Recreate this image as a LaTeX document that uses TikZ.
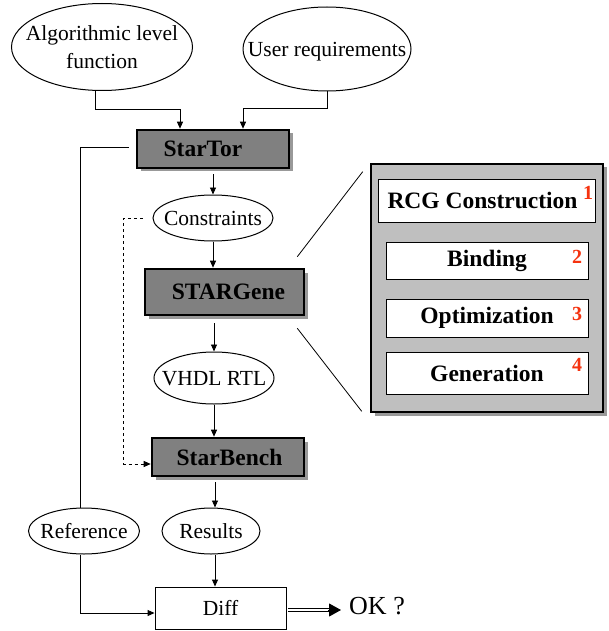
\documentclass[tikz,border=0pt]{standalone}
\usepackage{fontspec}
\setmainfont{Liberation Serif}
\usetikzlibrary{shapes.geometric,arrows.meta,shadows}
\definecolor{rednum}{RGB}{245,50,15}
\begin{document}
\begin{tikzpicture}[x=1pt,y=-1pt,
  oval/.style={ellipse,draw,line width=1pt,inner sep=0pt},
  ovaltext/.style={inner sep=0pt,font=\fontsize{21.5}{28}\selectfont,align=center},
  onetext/.style={inner sep=0pt,font=\fontsize{21.5}{28}\selectfont,anchor=base,yshift=-7.5pt},
  graybox/.style={rectangle,draw,line width=2.6pt,fill=gray,inner sep=0pt,font=\bfseries\fontsize{23.5}{26}\selectfont,
     drop shadow={shadow xshift=3.5pt,shadow yshift=-3.5pt,fill=black!40,opacity=1}},
  stepbox/.style={rectangle,draw,line width=0.9pt,fill=white,inner sep=0pt,minimum width=202,font=\bfseries\fontsize{23.5}{26}\selectfont},
  num/.style={text=rednum,font=\bfseries\fontsize{20}{22}\selectfont,inner sep=0pt},
  arr/.style={line width=0.9pt,-{Triangle[length=7pt,width=6pt]}},
  conn/.style={line width=0.9pt}]
\useasboundingbox (0,0) rectangle (608,631);
% ellipses
\node[oval,minimum width=181,minimum height=87] (alg) at (102,47) {};
\node[ovaltext] (algt) at (alg.center) {Algorithmic level\\function};
\node[oval,minimum width=168,minimum height=84] (user) at (327,49) {};
\node[onetext] (usert) at (user.center) {User requirements};
\node[oval,minimum width=120,minimum height=46] (cons) at (213,218) {};
\node[onetext] (const) at (cons.center) {Constraints};
\node[oval,minimum width=120,minimum height=52] (vhdl) at (214,378) {};
\node[onetext] (vhdlt) at (vhdl.center) {VHDL RTL};
\node[oval,minimum width=111,minimum height=46] (ref) at (84,531) {};
\node[onetext] (reft) at (ref.center) {Reference};
\node[oval,minimum width=98,minimum height=46] (res) at (211,531) {};
\node[onetext] (rest) at (res.center) {Results};
% gray boxes
\node[graybox,minimum width=152,minimum height=38] (startor) at (213,149) {StarTor\hspace*{20pt}};
\node[graybox,minimum width=159,minimum height=46] (stargene) at (224.5,292) {\hspace*{8pt}STARGene};
\node[graybox,minimum width=152,minimum height=38] (starbench) at (228,457) {\hspace*{3pt}StarBench};
% diff
\node[rectangle,draw,line width=0.9pt,minimum width=131,minimum height=42,inner sep=0pt] (diff) at (220.5,608) {};
\node[onetext] (difft) at (diff.center) {Diff};
\node[inner sep=0pt,anchor=west,font=\fontsize{26}{28}\selectfont] (ok) at (349,606) {OK ?};
% big box
\node[rectangle,draw,line width=2.6pt,fill=black!25,minimum width=232,minimum height=248,inner sep=0pt,
  drop shadow={shadow xshift=3.5pt,shadow yshift=-3.5pt,fill=black!40,opacity=1}] (big) at (487,288) {};
\node[stepbox,minimum width=217,minimum height=43] (rcg) at (486.5,200.5) {RCG Construction\hspace*{8pt}};
\node[stepbox,minimum height=37] (bind) at (487,260.5) {Binding};
\node[stepbox,minimum height=38] (opt) at (487,318) {Optimization};
\node[stepbox,minimum height=42] (gen) at (487,373) {Generation};
\node[num] (n1) at (588,193) {1};
\node[num] (n2) at (577,257) {2};
\node[num] (n3) at (577,314) {3};
\node[num] (n4) at (577,365) {4};
% connectors
\draw[arr] ([xshift=-7pt]alg.south) -- ++(0,18) -| ([xshift=-33pt]startor.north);
\draw[arr] (user.south) -- ++(0,17) -| ([xshift=30pt]startor.north);
\draw[arr] ([yshift=-5pt]startor.south) -- (cons.north);
\draw[arr] (cons.south) -- (cons.south |- stargene.north);
\draw[arr] ([yshift=-7pt]vhdl.north |- stargene.south) -- (vhdl.north);
\draw[arr] (vhdl.south) -- (vhdl.south |- starbench.north);
\draw[arr] ([xshift=4pt,yshift=-5pt]res.north |- starbench.south) -- ([xshift=4pt]res.north);
\draw[arr] ([xshift=4pt]res.south) -- ([xshift=4pt]res.south |- diff.north);
\draw[conn] ([xshift=-7pt,yshift=2pt]startor.west) -| ([xshift=-4pt]ref.north);
\draw[arr] ([xshift=-4pt]ref.south) |- ([yshift=-5pt]diff.west);
\draw[arr,dashed] ([xshift=-10pt]cons.west) -- ++(-19,0) |- ([yshift=-7pt]starbench.west);
\coordinate (okmid) at (329,610);
\coordinate (okend) at (341,610);
\draw[line width=1.1pt,double,double distance=2.4pt] ([xshift=2pt,yshift=-2pt]diff.east) -- (okmid);
\draw[line width=1pt,-{Triangle[length=12pt,width=13pt]}] ([xshift=-1pt]okmid) -- (okend);
\draw[line width=0.8pt] ([shift={(-8pt,11pt)}]stargene.north east) -- ([shift={(-7pt,-9pt)}]big.north west);
\draw[line width=0.8pt] ([shift={(-8pt,-12pt)}]stargene.south east) -- ([shift={(-8pt,2pt)}]big.south west);
\end{tikzpicture}
\end{document}
